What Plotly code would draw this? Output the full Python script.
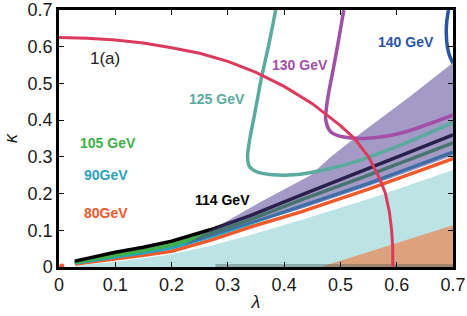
import plotly.graph_objects as go

# 125 GeV curve (teal loop)
lam_125 = [0.385, 0.372, 0.36, 0.348, 0.338, 0.335, 0.338, 0.35, 0.375, 0.417, 0.478, 0.537, 0.62, 0.7]
kap_125 = [0.7, 0.6, 0.518, 0.42, 0.34, 0.3, 0.275, 0.26, 0.252, 0.251, 0.267, 0.292, 0.34, 0.393]

# 130 GeV curve
lam_130 = [0.506, 0.497, 0.488, 0.477, 0.474, 0.483, 0.506, 0.549, 0.608, 0.667, 0.7]
kap_130 = [0.7, 0.62, 0.545, 0.455, 0.40, 0.368, 0.354, 0.351, 0.365, 0.395, 0.414]

# 140 GeV curve
lam_140 = [0.692, 0.689, 0.688, 0.69, 0.694, 0.7]
kap_140 = [0.7, 0.67, 0.638, 0.6, 0.575, 0.555]

# red boundary curve
lam_red = [0.0, 0.05, 0.1, 0.15, 0.2, 0.25, 0.3, 0.35, 0.4, 0.45, 0.5, 0.525, 0.55,
           0.57, 0.58, 0.587, 0.591, 0.593, 0.593]
kap_red = [0.625, 0.623, 0.618, 0.61, 0.597, 0.582, 0.56, 0.53, 0.492, 0.445, 0.385, 0.35, 0.3,
           0.24, 0.2, 0.15, 0.1, 0.05, 0.0]

# lower family of lines
lam_low = [0.028, 0.06, 0.1, 0.15, 0.2, 0.27, 0.34, 0.43, 0.55, 0.7]
kap_114 = [0.016, 0.027, 0.04, 0.054, 0.07, 0.102, 0.14, 0.196, 0.268, 0.36]
kap_105 = [0.013, 0.021, 0.032, 0.045, 0.06, 0.092, 0.129, 0.183, 0.25, 0.338]
kap_90 = [0.011, 0.018, 0.028, 0.039, 0.052, 0.083, 0.119, 0.166, 0.228, 0.313]
kap_80 = [0.008, 0.014, 0.022, 0.032, 0.043, 0.073, 0.109, 0.15, 0.212, 0.295]

# light cyan region
lam_cyan = [0.03, 0.1, 0.15, 0.2, 0.27, 0.34, 0.43, 0.55, 0.7, 0.7, 0.03]
kap_cyan = [0.004, 0.014, 0.024, 0.035, 0.058, 0.087, 0.128, 0.185, 0.264, 0.0, 0.0]

# brown region
lam_brown = [0.465, 0.7, 0.7]
kap_brown = [0.0, 0.0, 0.114]

# purple wedge
lam_purple = [0.22, 0.29, 0.358, 0.447, 0.483, 0.536, 0.62, 0.7, 0.7, 0.55, 0.43, 0.34, 0.22]
kap_purple = [0.058, 0.118, 0.177, 0.25, 0.30, 0.364, 0.46, 0.556, 0.303, 0.22, 0.158, 0.117, 0.058]

# grey strip on the axis
lam_bar = [0.278, 0.7, 0.7, 0.278]
kap_bar = [0.0, 0.0, 0.008, 0.008]

labels = ["1(a)", "130 GeV", "125 GeV", "140 GeV", "105 GeV", "90GeV", "80GeV", "114 GeV"]
label_lam = [0.082, 0.429, 0.28, 0.616, 0.087, 0.084, 0.084, 0.29]
label_kap = [0.569, 0.55, 0.458, 0.613, 0.338, 0.251, 0.147, 0.183]
label_col = ["#222222", "#a24fa6", "#5aab9e", "#2a55a5", "#3db048", "#2ba3bd", "#f0592a", "#000000"]

fig = go.Figure()

fig.add_trace(go.Scatter(x=lam_cyan, y=kap_cyan, fill="toself", mode="none",
                         fillcolor="#bde4e4"))
fig.add_trace(go.Scatter(x=lam_brown, y=kap_brown, fill="toself", mode="none",
                         fillcolor="#dca27e"))
fig.add_trace(go.Scatter(x=lam_bar, y=kap_bar, fill="toself", mode="none",
                         fillcolor="rgba(70,90,90,0.4)"))

for kap, col in [(kap_80, "#f0592a"), (kap_90, "#2ba3bd"), (kap_105, "#3db048"), (kap_114, "#000000")]:
    fig.add_trace(go.Scatter(x=lam_low, y=kap, mode="lines", line=dict(color=col, width=3.5)))

fig.add_trace(go.Scatter(x=[0.005], y=[0.003], mode="markers",
                         marker=dict(color="#f0592a", size=5)))

fig.add_trace(go.Scatter(x=lam_purple, y=kap_purple, fill="toself", mode="none",
                         fillcolor="rgba(78,62,145,0.52)"))

fig.add_trace(go.Scatter(x=lam_125, y=kap_125, mode="lines",
                         line=dict(color="#5aab9e", width=3.5, shape="spline", smoothing=0.8)))
fig.add_trace(go.Scatter(x=lam_130, y=kap_130, mode="lines",
                         line=dict(color="#a24fa6", width=3.5, shape="spline", smoothing=0.8)))
fig.add_trace(go.Scatter(x=lam_140, y=kap_140, mode="lines",
                         line=dict(color="#2a55a5", width=3.5, shape="spline", smoothing=0.8)))
fig.add_trace(go.Scatter(x=lam_red, y=kap_red, mode="lines",
                         line=dict(color="#dc3a5c", width=3)))

for t, lx, ky, c in zip(labels, label_lam, label_kap, label_col):
    bold = t != "1(a)"
    fig.add_annotation(x=lx, y=ky, text=f"<b>{t}</b>" if bold else t, showarrow=False,
                       font=dict(color=c, size=14 if bold else 17, family="Liberation Sans"))

ticks = [0, 0.1, 0.2, 0.3, 0.4, 0.5, 0.6, 0.7]
tick_text = ["0", "0.1", "0.2", "0.3", "0.4", "0.5", "0.6", "0.7"]

axis = dict(range=[0, 0.7], tickvals=ticks, ticktext=tick_text, ticks="inside", ticklen=5,
            tickwidth=1, tickcolor="black", mirror="ticks", showline=True, linecolor="black",
            linewidth=2.5, showgrid=False, zeroline=False, automargin=False,
            tickfont=dict(size=18, color="#1a1a1a"))

fig.update_layout(
    width=467, height=316,
    margin=dict(l=59, r=14, t=10, b=49),
    plot_bgcolor="white", paper_bgcolor="white",
    showlegend=False,
    font=dict(family="Liberation Sans"),
    xaxis=dict(axis, title=dict(text="<i>λ</i>", font=dict(size=18, color="#1a1a1a"), standoff=2)),
    yaxis=dict(axis, title=dict(text="<i>κ</i>", font=dict(size=18, color="#1a1a1a"), standoff=6)),
)

# drop the page's default body margin so the figure fills the window
fig.write_html("out.html", config={"displayModeBar": False},
               post_script="document.body.style.margin='0';document.body.style.overflow='hidden';")
